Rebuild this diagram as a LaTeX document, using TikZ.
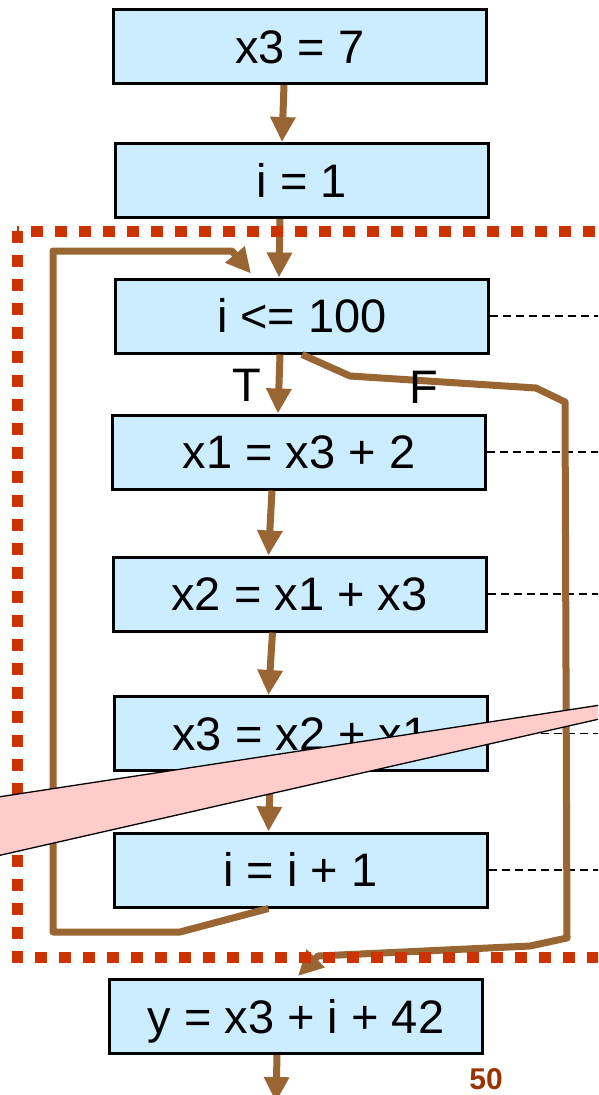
\documentclass[tikz,border=0pt]{standalone}
\usepackage{fontspec}
\setmainfont{Liberation Sans}
\usetikzlibrary{arrows.meta}
\definecolor{flowbrown}{HTML}{996633}
\definecolor{loopred}{HTML}{CC3300}
\definecolor{stmtblue}{HTML}{CCECFF}
\definecolor{wedgepink}{HTML}{FFCCCC}
\definecolor{pagebrown}{HTML}{993300}

\begin{document}
\begin{tikzpicture}[
    x=1pt, y=-1pt,
    stmt/.style={draw, line width=3pt, fill=stmtblue, minimum width=373pt, minimum height=74pt,
        inner sep=0pt, text height=33pt, text depth=0pt, font=\fontsize{47}{56}\selectfont},
    flow/.style={color=flowbrown, line width=7pt, line join=round, -{Triangle[width=24pt,length=25pt]}},
    link/.style={black, line width=1.3pt, dash pattern=on 8pt off 5pt},
    loopframe/.style={loopred, line width=11pt, dash pattern=on 12pt off 12pt},
    lbl/.style={font=\fontsize{47}{56}\selectfont, inner sep=0pt}
    ]

    \useasboundingbox (0,0) rectangle (598,1095);
    \clip (0,0) rectangle (598,1095);

    \node[stmt] (b1) at (300,46.5) {x3 = 7};
    \node[stmt] (b2) at (302,180.5) {i = 1};
    \node[stmt] (b3) at (302,316) {i <= 100};
    \node[stmt] (b4) at (299,452) {x1 = x3 + 2};
    \node[stmt] (b5) at (299.5,594) {x2 = x1 + x3};
    \node[stmt] (b6) at (300.5,733.5) {x3 = x2 + x1};
    \node[stmt] (b7) at (300.5,870) {i = i + 1};
    \node[stmt] (b8) at (296,1016.5) {y = x3 + i + 42};
    \coordinate (edge) at (640,0);
    \coordinate (exit) at (276,1102);

    \draw[link] (b3.east) -- (b3.east -| edge);
    \draw[link] (b4.east) -- (b4.east -| edge);
    \draw[link] (b5.east) -- (b5.east -| edge);
    \draw[link] (b6.east) -- (b6.east -| edge);
    \draw[link] (b7.east) -- (b7.east -| edge);

    \draw[flow] ([xshift=-16pt]b1.south) -- ([xshift=-20pt]b2.north);
    \draw[flow] ([xshift=-22pt]b2.south) -- ([xshift=-23pt]b3.north);
    \draw[flow] ([xshift=-22pt]b3.south) -- ([xshift=-21pt]b4.north);
    \draw[flow] ([xshift=-27pt]b4.south) -- ([xshift=-31pt]b5.north);
    \draw[flow] ([xshift=-27pt]b5.south) -- ([xshift=-32pt]b6.north);
    \draw[flow] ([xshift=-30pt]b6.south) -- ([xshift=-32pt]b7.north);
    \draw[flow] ([xshift=-19pt]b8.south) -- (exit);
    \draw[flow] ([xshift=-32pt]b7.south) -- (180,932) -- (53,932) -- (53,251) -- (232,251)
        -- ([xshift=-51pt,yshift=4pt]b3.north);
    \draw[flow] (b3.south) -- (350,376) -- (536,388) -- (565,402) -- (567,938) -- (530,946)
        -- (318,956) -- ([xshift=2pt,yshift=2pt]b8.north);

    \node[lbl] (tlabel) at (247,385) {T};
    \node[lbl] (flabel) at (424,387) {F};

    \draw[loopframe] (17,231) rectangle (660,957);

    \draw[black, line width=1.3pt, fill=wedgepink] (784,677) -- (-100,812) -- (-100,878) -- cycle;

    \node[font=\bfseries\fontsize{30}{36}\selectfont, text=pagebrown] (pagenum) at (486,1079) {50};

\end{tikzpicture}
\end{document}
